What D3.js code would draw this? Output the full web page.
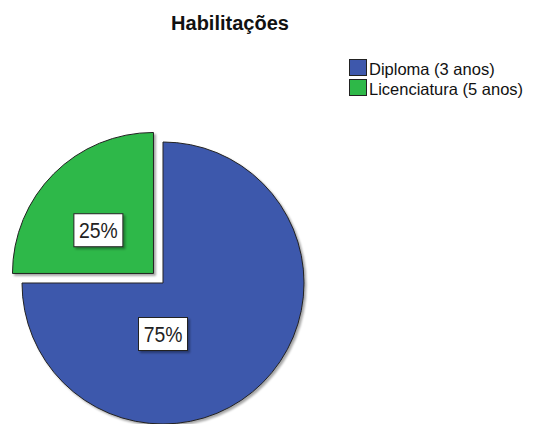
<!DOCTYPE html>
<html>
<head>
<meta charset="utf-8">
<script src="https://cdn.jsdelivr.net/npm/d3@7"></script>
<style>
  body { margin: 0; background: #fff; }
  text { font-family: "Liberation Sans", Arial, sans-serif; }
</style>
</head>
<body>
<script>
'use strict';

// chart values
const categories = ["Diploma (3 anos)", "Licenciatura (5 anos)"];
const values = [75, 25];
const colors = ["#3e58ac", "#2eb848"];
const exploded = [false, true];

(function () {
  const width = 533, height = 424;
  const cx = 163, cy = 283, radius = 141;

  const svg = d3.select('body')
    .append('svg')
    .attr('width', width)
    .attr('height', height);

  // soft shadow filter
  const defs = svg.append('defs');
  const f = defs.append('filter').attr('id', 'shadow')
    .attr('x', '-10%').attr('y', '-10%').attr('width', '130%').attr('height', '130%');
  f.append('feDropShadow')
    .attr('dx', 2).attr('dy', 2).attr('stdDeviation', 1.2)
    .attr('flood-color', '#000').attr('flood-opacity', 0.35);

  // title
  svg.append('text')
    .attr('x', 230)
    .attr('y', 30)
    .attr('text-anchor', 'middle')
    .style('font-size', '20px')
    .style('font-weight', 'bold')
    .style('fill', '#111')
    .text('Habilitações');

  // pie
  const pie = d3.pie().sort(null).value(d => d);
  const arcs = pie(values);
  const arc = d3.arc().innerRadius(0).outerRadius(radius);

  const g = svg.append('g').attr('transform', `translate(${cx},${cy})`);

  const slices = g.selectAll('.slice')
    .data(arcs)
    .enter()
    .append('g')
    .attr('class', 'slice')
    .attr('transform', (d, i) => {
      if (!exploded[i]) return null;
      const mid = (d.startAngle + d.endAngle) / 2;
      const p = d3.pointRadial(mid, 13.5);
      return `translate(${p[0]},${p[1]})`;
    });

  slices.append('path')
    .attr('d', arc)
    .attr('fill', (d, i) => colors[i])
    .attr('stroke', '#222')
    .attr('stroke-width', 1)
    .attr('filter', 'url(#shadow)');

  // value labels in boxes
  const labelPos = d => {
    const span = d.endAngle - d.startAngle;
    if (span > Math.PI) return [0, 51];
    const mid = (d.startAngle + d.endAngle) / 2;
    return d3.pointRadial(mid - 0.12, 70);
  };

  const labels = slices.append('g')
    .attr('transform', d => {
      const p = labelPos(d);
      return `translate(${p[0]},${p[1]})`;
    });

  labels.append('rect')
    .attr('x', -24.5)
    .attr('y', -16.5)
    .attr('width', 49)
    .attr('height', 33)
    .attr('fill', '#fff')
    .attr('stroke', '#222')
    .attr('stroke-width', 1)
    .attr('filter', 'url(#shadow)');

  labels.append('text')
    .attr('text-anchor', 'middle')
    .attr('dy', '0.36em')
    .attr('transform', 'scale(0.88,1)')
    .style('font-size', '22px')
    .style('fill', '#222')
    .text(d => d.data + '%');

  // legend
  const legend = svg.append('g')
    .attr('transform', 'translate(349.5,59.5)');

  const items = legend.selectAll('.item')
    .data(categories)
    .enter()
    .append('g')
    .attr('class', 'item')
    .attr('transform', (d, i) => `translate(0,${i * 20})`);

  items.append('rect')
    .attr('width', 17)
    .attr('height', 16)
    .attr('fill', (d, i) => colors[i])
    .attr('stroke', '#222')
    .attr('stroke-width', 1);

  items.append('text')
    .attr('x', 19.5)
    .attr('y', 15)
    .style('font-size', '16.5px')
    .style('fill', '#111')
    .text(d => d);
})();
</script>
</body>
</html>
